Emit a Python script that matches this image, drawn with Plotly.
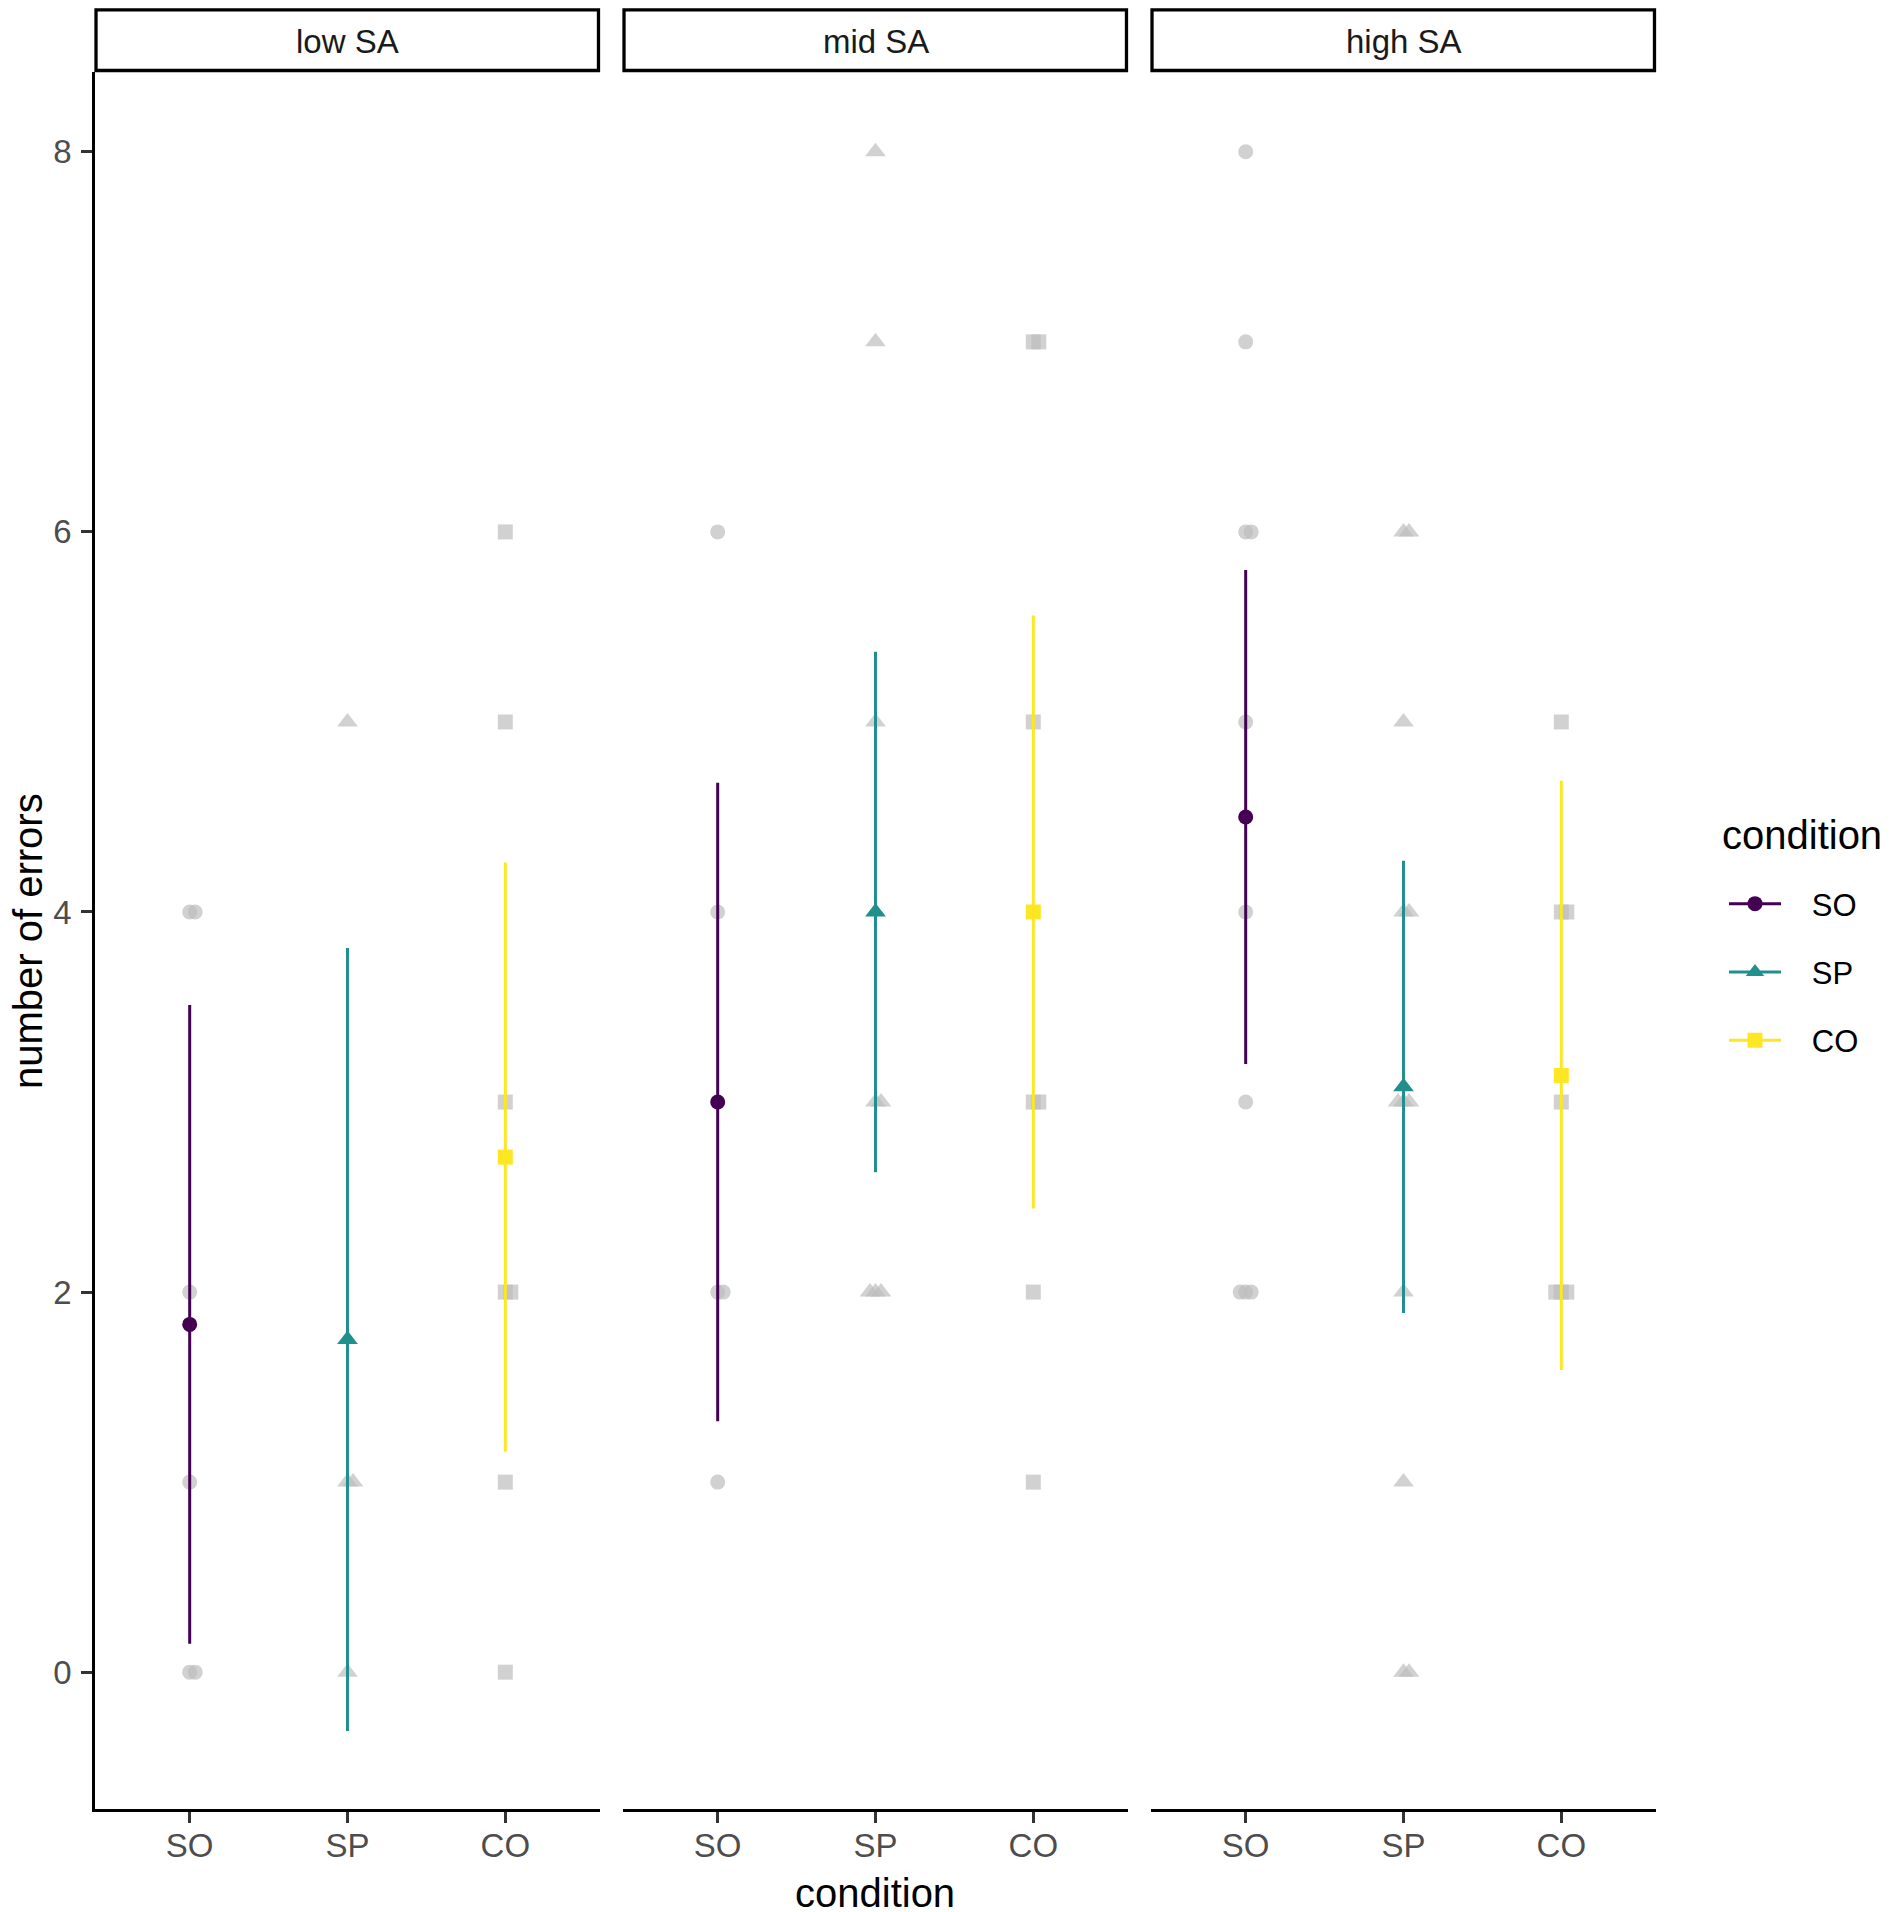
import plotly.graph_objects as go

# ---------------- data ----------------
panels = ["low SA", "mid SA", "high SA"]
conditions = ["SO", "SP", "CO"]

# raw observations (number of errors) per panel, per condition
raw_low = {"SO": [4, 4, 2, 1, 0, 0],
           "SP": [5, 1, 1, 0],
           "CO": [6, 5, 3, 2, 2, 1, 0]}
raw_mid = {"SO": [6, 4, 2, 2, 1],
           "SP": [8, 7, 5, 3, 3, 2, 2, 2],
           "CO": [7, 7, 5, 3, 3, 2, 1]}
raw_high = {"SO": [8, 7, 6, 6, 5, 4, 3, 2, 2, 2],
            "SP": [6, 6, 5, 4, 4, 3, 3, 3, 2, 1, 0, 0],
            "CO": [5, 4, 4, 3, 2, 2, 2]}

# summary: mean and half-width of the interval
mean_low = [1.83, 1.75, 2.71]
err_low = [1.68, 2.06, 1.55]
mean_mid = [3.00, 4.00, 4.00]
err_mid = [1.68, 1.37, 1.56]
mean_high = [4.50, 3.08, 3.14]
err_high = [1.30, 1.19, 1.55]

y_ticks = [0, 2, 4, 6, 8]

raws = [raw_low, raw_mid, raw_high]
means = [mean_low, mean_mid, mean_high]
errs = [err_low, err_mid, err_high]

# ---------------- style ----------------
colors = {"SO": "#440154", "SP": "#21908C", "CO": "#FDE725"}
symbols = {"SO": "circle", "SP": "triangle-up", "CO": "square"}
sizes = {"SO": 15, "SP": 18, "CO": 15}
gray = "rgba(190,190,190,0.70)"
FONT = "Liberation Sans, Arial, sans-serif"

W, H = 1894, 1912
OFF = 8                      # page body margin
PLOT_L, PLOT_R, PLOT_T, PLOT_B = 95, 1656, 72, 1809   # page pixels
ML, MT = PLOT_L - OFF, PLOT_T - OFF
PW, PH = PLOT_R - PLOT_L, PLOT_B - PLOT_T
MR, MB = W - ML - PW, H - MT - PH


def px(xp):
    return (xp - PLOT_L) / PW


def py(yp):
    return (PLOT_B - yp) / PH


panel_w = 505
gap = (PW - 3 * panel_w) / 2
domains = []
for i in range(3):
    a = i * (panel_w + gap)
    domains.append([a / PW, (a + panel_w) / PW])

fig = go.Figure()
xnames = ["x", "x2", "x3"]
dup_offsets = [0.0, 0.035, -0.035, 0.07]

# gray raw points
for p in range(3):
    for ci, c in enumerate(conditions):
        vals = raws[p][c]
        xs, seen = [], {}
        for v in vals:
            k = seen.get(v, 0)
            seen[v] = k + 1
            xs.append(ci + 1 + dup_offsets[k % len(dup_offsets)])
        fig.add_trace(go.Scatter(
            x=xs, y=vals, mode="markers", xaxis=xnames[p], yaxis="y",
            marker=dict(symbol=symbols[c], size=sizes[c], color=gray),
            showlegend=False, hoverinfo="skip"))

NB = "\u00a0"
# means with error bars
for p in range(3):
    for ci, c in enumerate(conditions):
        fig.add_trace(go.Scatter(
            x=[ci + 1], y=[means[p][ci]], mode="lines+markers",
            xaxis=xnames[p], yaxis="y", name=NB * 3 + c, legendgroup=c,
            showlegend=(p == 0),
            line=dict(color=colors[c], width=3),
            marker=dict(symbol=symbols[c], size=sizes[c], color=colors[c]),
            error_y=dict(type="data", array=[errs[p][ci]], symmetric=True,
                         color=colors[c], thickness=3, width=0)))

axis_common = dict(showline=True, linecolor="black", linewidth=2.7,
                   ticks="outside", ticklen=11, tickwidth=2.7,
                   tickcolor="#333333", showgrid=False, zeroline=False,
                   tickfont=dict(family=FONT, size=33, color="#4D4D4D"))

layout_axes = {}
for p in range(3):
    key = "xaxis" if p == 0 else f"xaxis{p+1}"
    layout_axes[key] = dict(domain=domains[p], range=[0.4, 3.6],
                            tickvals=[1, 2, 3], ticktext=conditions,
                            anchor="y", ticklabelstandoff=-5, **axis_common)
layout_axes["yaxis"] = dict(domain=[0, 1], range=[-0.72, 8.42],
                            tickvals=y_ticks, anchor="x",
                            ticklabelstandoff=3, **axis_common)

shapes, annotations = [], []
for p in range(3):
    xr = "x domain" if p == 0 else f"x{p+1} domain"
    shapes.append(dict(type="rect", xref=xr, yref="paper", x0=0.002, x1=0.997,
                       y0=py(70.5), y1=py(9.8),
                       line=dict(color="black", width=3.3), fillcolor="white",
                       layer="above"))
    annotations.append(dict(text=panels[p], xref=xr, yref="paper", x=0.5,
                            y=py(41), showarrow=False,
                            xanchor="center", yanchor="middle",
                            font=dict(family=FONT, size=33, color="#1A1A1A")))

annotations.append(dict(text="number of errors", xref="paper", yref="paper",
                        x=px(28), y=py(941), textangle=-90, borderpad=0,
                        showarrow=False, xanchor="center", yanchor="middle",
                        font=dict(family=FONT, size=40, color="black")))
annotations.append(dict(text="condition", xref="paper", yref="paper",
                        x=px(875), y=py(1893), borderpad=0,
                        showarrow=False, xanchor="center", yanchor="middle",
                        font=dict(family=FONT, size=40, color="black")))
# legend title
annotations.append(dict(text="condition", xref="paper", yref="paper",
                        x=px(1720), y=py(835),
                        showarrow=False, xanchor="left", yanchor="middle",
                        font=dict(family=FONT, size=40, color="black")))

fig.update_layout(
    width=W, height=H,
    margin=dict(l=ML, r=MR, t=MT, b=MB, autoexpand=False),
    paper_bgcolor="white", plot_bgcolor="white",
    shapes=shapes, annotations=annotations,
    showlegend=True,
    legend=dict(font=dict(family=FONT, size=31, color="black"),
                x=px(1724), y=py(877),
                xanchor="left", yanchor="top", tracegroupgap=25,
                itemwidth=52, bgcolor="rgba(0,0,0,0)"),
    **layout_axes)

fig.write_html("out.html")
